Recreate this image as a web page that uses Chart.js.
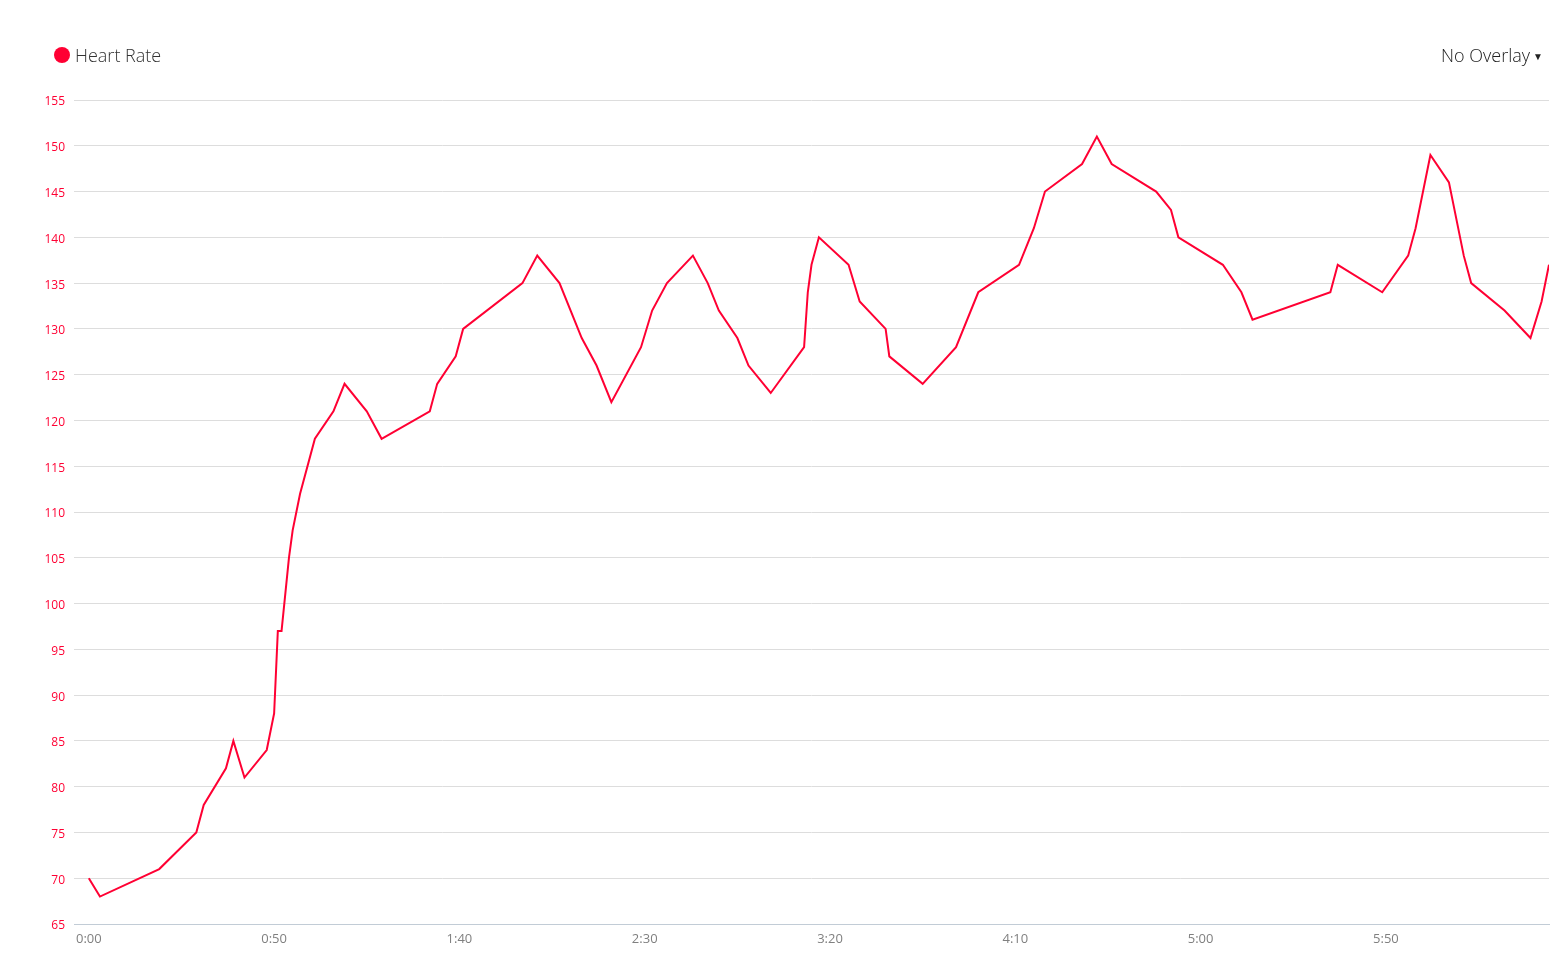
<!DOCTYPE html>
<html>
<head>
<meta charset="utf-8">
<title>Heart Rate</title>
<script src="https://cdn.jsdelivr.net/npm/chart.js@4.4.1/dist/chart.umd.min.js"></script>
<style>
    html, body { margin: 0; padding: 0; background: #fff; overflow: hidden; }
    #wrap { position: relative; width: 1556px; height: 963px; }
    .legend {
        position: absolute; left: 54px; top: 43px;
        font-family: "Open Sans", sans-serif; font-weight: 300; font-size: 18px; color: #333;
        display: flex; align-items: center;
    }
    .legend .dot {
        width: 16px; height: 16px; border-radius: 50%; background: #ff0033;
        display: inline-block; margin-right: 5px;
    }
    .overlay {
        position: absolute; right: 13px; top: 43px;
        font-family: "Open Sans", sans-serif; font-weight: 300; font-size: 18px; color: #222;
    }
    .overlay .caret { font-size: 10px; margin-left: 3px; vertical-align: 2px; }
</style>
</head>
<body>
<div id="wrap">
    <canvas id="hrChart"></canvas>
    <div class="legend"><span class="dot"></span>Heart Rate</div>
    <div class="overlay">No Overlay<span class="caret">&#9660;</span></div>
</div>
<script>
// elapsed seconds for each sample
const times = [0, 3, 19, 29, 31, 37, 39, 42, 48, 50, 51, 52, 54, 55, 57, 61, 66, 69, 75, 79,
    92, 94, 99, 101, 117, 121, 127, 133, 137, 141, 149, 152, 156, 163, 167, 170, 175, 178, 184,
    193, 194, 195, 197, 205, 208, 215, 216, 225, 234, 240, 251, 255, 258, 268, 272, 276, 288,
    292, 294, 306, 311, 314, 335, 337, 349, 356, 358, 362, 367, 371, 373, 382, 389, 392, 394];

// beats per minute
const heartRate = [70, 68, 71, 75, 78, 82, 85, 81, 84, 88, 97, 97, 105, 108, 112, 118, 121, 124, 121, 118,
    121, 124, 127, 130, 135, 138, 135, 129, 126, 122, 128, 132, 135, 138, 135, 132, 129, 126, 123,
    128, 134, 137, 140, 137, 133, 130, 127, 124, 128, 134, 137, 141, 145, 148, 151, 148, 145,
    143, 140, 137, 134, 131, 134, 137, 134, 138, 141, 149, 146, 138, 135, 132, 129, 133, 137];

const xTicks = [0, 50, 100, 150, 200, 250, 300, 350];
const yMin = 65;
const yMax = 155;

const red = '#ff0033';

function fmtTime(sec) {
    const m = Math.floor(sec / 60);
    const s = sec % 60;
    return m + ':' + (s < 10 ? '0' + s : s);
}

const points = times.map((t, i) => ({ x: t, y: heartRate[i] }));

const canvas = document.getElementById('hrChart');
canvas.style.width = '1556px';
canvas.style.height = '963px';

new Chart(canvas.getContext('2d'), {
    type: 'line',
    data: {
        datasets: [{
            label: 'Heart Rate',
            data: points,
            borderColor: red,
            borderWidth: 2,
            pointRadius: 0,
            tension: 0,
            fill: false
        }]
    },
    options: {
        responsive: false,
        animation: false,
        layout: { padding: { top: 100, right: 7, bottom: 0, left: 0 } },
        plugins: {
            legend: { display: false },
            tooltip: { enabled: false }
        },
        scales: {
            x: {
                type: 'linear',
                min: -4,
                max: 394,
                grid: { display: false, drawTicks: false },
                border: { display: true, color: '#c2ccd6', width: 1 },
                afterBuildTicks: axis => { axis.ticks = xTicks.map(v => ({ value: v })); },
                afterFit: axis => {
                    axis.height = 39;
                    axis.paddingLeft = 0;
                    axis.paddingRight = 0;
                },
                ticks: {
                    padding: 7,
                    color: '#808080',
                    font: { family: 'Open Sans', size: 13 },
                    maxRotation: 0,
                    callback: v => fmtTime(v)
                }
            },
            y: {
                min: yMin,
                max: yMax,
                grid: { color: '#dddddd', drawTicks: false },
                border: { display: false },
                afterFit: axis => {
                    axis.width = 74;
                    axis.paddingTop = 0;
                    axis.paddingBottom = 0;
                },
                ticks: {
                    stepSize: 5,
                    padding: 9,
                    labelOffset: 2,
                    color: red,
                    font: { family: 'Open Sans', size: 12 }
                }
            }
        }
    }
});
</script>
</body>
</html>
